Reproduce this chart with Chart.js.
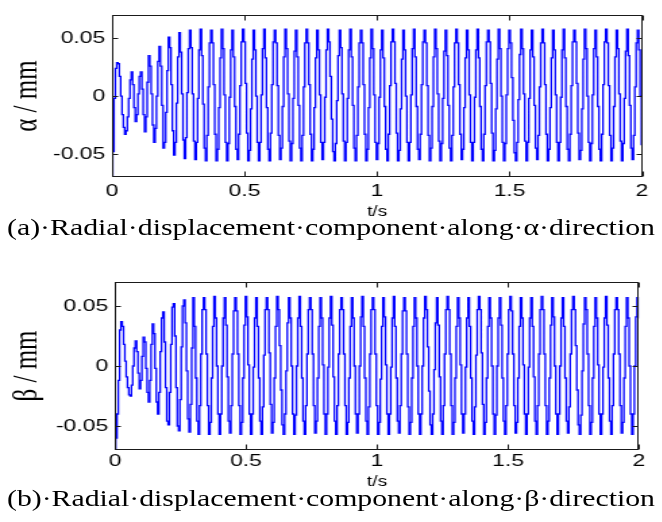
<!DOCTYPE html>
<html><head><meta charset="utf-8">
<script src="https://cdn.jsdelivr.net/npm/chart.js@4"></script>
<style>
html,body{margin:0;padding:0;background:#fff;width:662px;height:522px;overflow:hidden;position:relative;}
canvas{position:absolute;left:0;transform:scaleX(1.35);transform-origin:0 0;}
#c1{top:0;}
#c2{top:262px;}
.cap{position:absolute;left:7px;font-family:"Liberation Serif","Times New Roman",serif;font-size:23px;line-height:23px;white-space:nowrap;transform-origin:0 0;color:#000;}
#capA{top:216px;}
#capB{top:487px;}
</style></head>
<body>
<canvas id="c1" width="490" height="225"></canvas>
<canvas id="c2" width="490" height="232"></canvas>
<div class="cap" id="capA"></div>
<div class="cap" id="capB"></div>
<script>
// ---------- data ----------
const sampleStep = 0.005; // s
const xTickValues = [0, 0.5, 1, 1.5, 2];
const xTickLabels = ['0', '0.5', '1', '1.5', '2'];
const yTickValues = [-0.05, 0, 0.05];
const yTickLabels = ['-0.05', '0', '0.05'];
const xTitle = 't/s';
const alphaTitle = 'α / mm';
const betaTitle = 'β / mm';
const captionA = '(a)·Radial·displacement·component·along·α·direction';
const captionB = '(b)·Radial·displacement·component·along·β·direction';

const alphaValues = [
-0.070,-0.048,-0.002,0.024,0.029,0.028,0.017,0.000,-0.016,-0.027,
-0.033,-0.030,-0.018,-0.002,0.014,0.021,0.010,-0.010,-0.022,-0.016,
0.002,0.017,0.021,0.006,-0.016,-0.031,-0.018,0.012,0.035,0.026,
0.002,-0.025,-0.040,-0.028,0.000,0.030,0.043,0.026,-0.008,-0.045,
-0.040,-0.014,0.022,0.051,0.042,0.010,-0.030,-0.051,-0.040,-0.006,
0.034,0.055,0.038,0.002,-0.038,-0.054,-0.036,0.003,0.041,
0.057,0.042,0.002,-0.039,-0.055,-0.040,-0.002,0.040,
0.058,0.035,-0.007,-0.045,-0.056,-0.034,0.008,0.046,
0.057,0.046,0.010,-0.033,-0.056,-0.046,-0.010,0.033,
0.058,0.041,0.001,-0.040,-0.056,-0.041,-0.001,0.040,
0.057,0.034,-0.009,-0.046,-0.055,-0.033,0.009,0.047,
0.058,0.047,0.011,-0.032,-0.056,-0.047,-0.011,0.032,
0.057,0.040,0.000,-0.040,-0.056,-0.040,0.001,0.041,
0.058,0.033,-0.010,-0.046,-0.056,-0.032,0.010,0.047,
0.057,0.046,0.009,-0.034,-0.055,-0.045,-0.009,0.034,
0.058,0.041,0.002,-0.039,-0.056,-0.041,-0.002,0.039,
0.057,0.034,-0.008,-0.045,-0.056,-0.034,0.008,0.046,
0.058,0.046,0.010,-0.033,-0.056,-0.046,-0.010,0.033,
0.057,0.040,0.001,-0.040,-0.055,-0.040,-0.001,0.040,
0.058,0.047,0.017,-0.020,-0.048,-0.056,-0.041,-0.004,0.035,
0.057,0.042,0.002,-0.039,-0.056,-0.040,-0.002,0.040,
0.058,0.034,-0.008,-0.045,-0.056,-0.034,0.008,0.046,
0.057,0.046,0.010,-0.033,-0.056,-0.046,-0.010,0.033,
0.058,0.041,0.001,-0.040,-0.055,-0.041,-0.001,0.040,
0.057,0.033,-0.009,-0.046,-0.056,-0.033,0.009,0.047,
0.058,0.047,0.011,-0.032,-0.056,-0.047,-0.011,0.032,
0.057,0.040,0.000,-0.040,-0.056,-0.040,0.001,0.041,
0.058,0.034,-0.009,-0.046,-0.055,-0.033,0.010,0.047,
0.057,0.046,0.009,-0.034,-0.056,-0.045,-0.009,0.034,
0.058,0.041,0.002,-0.039,-0.056,-0.041,-0.002,0.039,
0.057,0.035,-0.008,-0.045,-0.056,-0.034,0.008,0.046,
0.058,0.046,0.010,-0.033,-0.055,-0.046,-0.010,0.033,
0.057,0.040,0.001,-0.040,-0.056,-0.040,-0.001,0.040,
0.058,0.033,-0.009,-0.046,-0.056,-0.033,0.009,0.047,
0.057,0.047,0.011,-0.032,-0.056,-0.047,-0.011,0.032,
0.058,0.041,0.000,-0.040,-0.056,-0.041,0.001,0.041,
0.057,0.046,0.016,-0.021,-0.049,-0.056,-0.040,-0.003,0.036,
0.058,0.041,0.002,-0.039,-0.056,-0.040,-0.002,0.040,
0.057,0.034,-0.008,-0.045,-0.055,-0.034,0.008,0.046,
0.058,0.046,0.010,-0.033,-0.056,-0.046,-0.010,0.033,
0.057,0.040,0.001,-0.040,-0.056,-0.040,-0.001,0.040,
0.058,0.033,-0.009,-0.046,-0.056,-0.033,0.009,0.047,
0.057,0.047,0.011,-0.032,-0.055,-0.047,-0.011,0.032,
0.058,0.041,0.000,-0.040,-0.056,-0.041,0.001,0.041,
0.057,0.034,-0.009,-0.046,-0.056,-0.033,0.010,0.047,
0.058,0.046,0.009,-0.034,-0.056,-0.045,-0.009,0.034,
0.057,0.041,0.002,-0.039,-0.056,-0.041,-0.002,0.039,
0.058,0.035,-0.008,-0.045,-0.055,-0.034,0.008,0.046,
0.057,0.040,0.000,-0.042
];

const betaValues = [
-0.070,-0.060,-0.040,-0.012,0.030,0.037,0.033,0.018,0.004,-0.009,
-0.018,-0.024,-0.025,-0.016,0.000,0.015,0.021,0.012,-0.006,-0.019,
-0.012,0.008,0.024,0.020,-0.002,-0.022,-0.030,-0.012,0.018,0.035,
0.027,-0.002,-0.030,-0.040,-0.022,0.012,0.040,0.045,0.020,-0.018,
-0.046,-0.049,-0.022,0.018,0.049,0.052,0.025,-0.018,-0.050,-0.054,
-0.028,0.016,0.050,0.055,0.036,-0.004,-0.044,-0.055,-0.032,0.015,
0.057,0.033,-0.010,-0.046,-0.057,-0.033,0.010,0.047,
0.057,0.047,0.010,-0.033,-0.057,-0.047,-0.010,0.033,
0.058,0.040,0.000,-0.040,-0.057,-0.040,0.000,0.040,
0.057,0.034,-0.009,-0.046,-0.056,-0.033,0.010,0.046,
0.057,0.046,0.010,-0.033,-0.057,-0.047,-0.010,0.034,
0.058,0.041,0.001,-0.040,-0.057,-0.040,-0.001,0.040,
0.057,0.033,-0.010,-0.046,-0.057,-0.034,0.009,0.047,
0.057,0.047,0.011,-0.032,-0.056,-0.047,-0.010,0.033,
0.058,0.047,0.017,-0.020,-0.049,-0.057,-0.040,-0.004,0.036,
0.057,0.040,0.000,-0.040,-0.057,-0.041,0.000,0.040,
0.058,0.033,-0.010,-0.046,-0.057,-0.033,0.010,0.047,
0.057,0.047,0.010,-0.033,-0.056,-0.046,-0.010,0.033,
0.057,0.040,0.001,-0.040,-0.057,-0.040,-0.001,0.040,
0.058,0.034,-0.009,-0.046,-0.057,-0.033,0.010,0.047,
0.057,0.047,0.010,-0.033,-0.057,-0.047,-0.010,0.033,
0.057,0.040,0.000,-0.040,-0.056,-0.040,0.000,0.041,
0.058,0.033,-0.010,-0.046,-0.057,-0.034,0.010,0.047,
0.057,0.047,0.010,-0.033,-0.057,-0.047,-0.011,0.033,
0.057,0.041,0.001,-0.040,-0.057,-0.040,-0.001,0.040,
0.058,0.033,-0.010,-0.046,-0.056,-0.033,0.010,0.046,
0.057,0.046,0.010,-0.034,-0.057,-0.047,-0.010,0.033,
0.057,0.040,0.000,-0.040,-0.057,-0.040,0.000,0.040,
0.058,0.047,0.016,-0.021,-0.049,-0.057,-0.040,-0.003,0.036,
0.057,0.034,-0.009,-0.046,-0.057,-0.033,0.010,0.047,
0.058,0.047,0.010,-0.033,-0.057,-0.047,-0.010,0.033,
0.057,0.040,0.001,-0.040,-0.056,-0.040,-0.001,0.040,
0.057,0.033,-0.010,-0.046,-0.057,-0.034,0.009,0.047,
0.058,0.047,0.011,-0.032,-0.057,-0.047,-0.010,0.033,
0.057,0.040,0.000,-0.040,-0.057,-0.041,0.000,0.040,
0.057,0.034,-0.010,-0.046,-0.057,-0.033,0.010,0.047,
0.058,0.046,0.010,-0.033,-0.056,-0.047,-0.010,0.033,
0.057,0.040,0.001,-0.040,-0.057,-0.040,-0.001,0.040,
0.057,0.033,-0.009,-0.046,-0.057,-0.033,0.010,0.047,
0.058,0.047,0.010,-0.033,-0.057,-0.046,-0.010,0.034,
0.057,0.041,0.000,-0.040,-0.057,-0.040,0.000,0.040,
0.057,0.033,-0.010,-0.046,-0.056,-0.034,0.010,0.047,
0.058,0.047,0.017,-0.020,-0.049,-0.057,-0.041,-0.004,0.035,
0.057,0.047,0.010,-0.033,-0.057,-0.047,-0.010,0.033,
0.057,0.040,0.001,-0.040,-0.057,-0.040,-0.001,0.040,
0.058,0.034,-0.010,-0.046,-0.057,-0.033,0.010,0.047,
0.057,0.047,0.010,-0.033,-0.056,-0.047,-0.010,0.033,
0.057,0.040,0.000,-0.040,-0.057,-0.040,0.000,0.041,
0.057,0.040
];

// ---------- drawing ----------
const toPoints = vals => vals.map((v, i) => ({x: +(i * sampleStep).toFixed(4), y: v}));

const boxPlugin = {
  id: 'matlabBox',
  afterDatasetsDraw(chart) {
    const {ctx, chartArea: a, scales: {x, y}} = chart;
    const L = Math.round(a.left) + 0.5, R = Math.round(a.right) - 0.5;
    const T = Math.round(a.top) + 0.5, B = Math.round(a.bottom) - 0.5;
    ctx.save();
    ctx.strokeStyle = '#1a1a1a';
    ctx.lineWidth = 1;
    ctx.strokeRect(L, T, R - L, B - T);
    ctx.beginPath();
    x.ticks.forEach(t => {
      const px = Math.round(x.getPixelForValue(t.value)) + 0.5;
      ctx.moveTo(px, B); ctx.lineTo(px, B - 5);
      ctx.moveTo(px, T); ctx.lineTo(px, T + 5);
    });
    y.ticks.forEach(t => {
      const py = Math.round(y.getPixelForValue(t.value)) + 0.5;
      ctx.moveTo(L, py); ctx.lineTo(L + 4, py);
      ctx.moveTo(R, py); ctx.lineTo(R - 4, py);
    });
    ctx.stroke();
    ctx.restore();
  }
};

function makeChart(id, values, yTitle, lay) {
  return new Chart(document.getElementById(id), {
    type: 'line',
    data: {datasets: [{
      data: toPoints(values),
      borderColor: '#0000ff',
      borderWidth: 1.3,
      pointRadius: 0,
      stepped: 'middle',
      fill: false
    }]},
    options: {
      responsive: false,
      animation: false,
      devicePixelRatio: 1,
      parsing: false,
      layout: {padding: {top: lay.top, right: lay.right, left: 0, bottom: 0}},
      plugins: {legend: {display: false}, tooltip: {enabled: false}},
      scales: {
        x: {
          type: 'linear', min: 0, max: 2,
          afterBuildTicks: s => { s.ticks = xTickValues.map(v => ({value: v})); },
          afterFit: s => { s.height = lay.xH; },
          grid: {display: false, drawTicks: false},
          border: {display: false},
          ticks: {
            callback: (v, i) => xTickLabels[i],
            maxRotation: 0, autoSkip: false,
            padding: lay.xTickPad,
            color: '#000',
            font: {family: '"Liberation Sans", Arial, sans-serif', size: 17}
          },
          title: {
            display: true, text: xTitle, color: '#000',
            font: {family: '"Liberation Sans", Arial, sans-serif', size: 14},
            padding: {top: 0, bottom: lay.xTitlePad}
          }
        },
        y: {
          type: 'linear', min: -0.07, max: 0.07,
          afterBuildTicks: s => { s.ticks = yTickValues.map(v => ({value: v})); },
          afterFit: s => { s.width = lay.yW; },
          grid: {display: false, drawTicks: false},
          border: {display: false},
          ticks: {
            callback: (v, i) => yTickLabels[i],
            autoSkip: false,
            padding: lay.yTickPad,
            color: '#000',
            font: {family: '"Liberation Sans", Arial, sans-serif', size: 17}
          },
          title: {
            display: true, text: yTitle, color: '#000',
            font: {family: '"Liberation Serif", "Times New Roman", serif', size: 25},
            padding: {top: 5.5, bottom: 0}
          }
        }
      }
    },
    plugins: [boxPlugin]
  });
}

makeChart('c1', alphaValues, alphaTitle,
  {top: 11, right: 14.4, xH: 48, xTickPad: 4, xTitlePad: 4, yW: 83, yTickPad: 5});
makeChart('c2', betaValues, betaTitle,
  {top: 20, right: 16.7, xH: 44, xTickPad: 1, xTitlePad: 3, yW: 85.2, yTickPad: 5});

// captions
[['capA', captionA], ['capB', captionB]].forEach(([id, txt]) => {
  const el = document.getElementById(id);
  el.textContent = txt;
  const w = el.getBoundingClientRect().width;
  el.style.transform = 'scaleX(' + (648 / w) + ')';
});
</script>
</body></html>
